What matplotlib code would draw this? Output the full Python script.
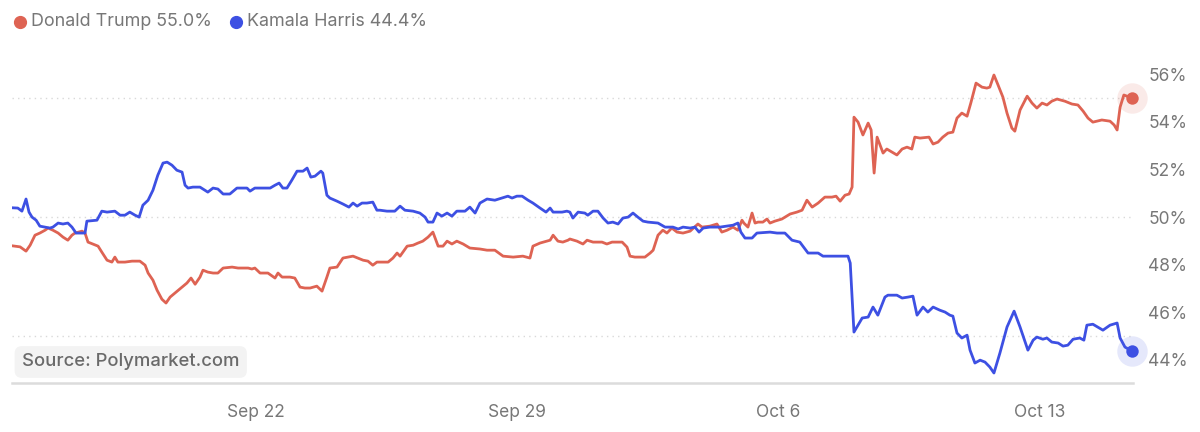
import matplotlib
matplotlib.use("Agg")
import matplotlib.pyplot as plt
import matplotlib.dates as mdates
from matplotlib.lines import Line2D
from datetime import datetime

plt.rcParams['font.family'] = ['Inter', 'DejaVu Sans']

# days after Sep 22, 2024 and probability (%)
trump_t = [-6.51, -6.32, -6.16, -6.05, -5.92, -5.79, -5.65, -5.57, -5.44, -5.30, -5.17, -5.04, -4.93, -4.85,
           -4.66, -4.58, -4.50, -4.37, -4.23, -4.13, -3.99, -3.86, -3.78, -3.70, -3.51, -3.32, -3.11, -2.97,
           -2.89, -2.76, -2.65, -2.52, -2.41, -2.30, -2.17, -1.98, -1.85, -1.74, -1.63, -1.50,
           -1.42, -1.29, -1.15, -1.02, -0.88, -0.64, -0.48, -0.21, -0.11, -0.03, 0.11, 0.32, 0.51, 0.59,
           0.70, 0.91, 1.04, 1.18, 1.31, 1.45, 1.63, 1.77, 1.90, 1.98, 2.17, 2.33, 2.60, 2.87, 3.00, 3.13, 3.24,
           3.32, 3.54, 3.67, 3.78, 3.86, 4.05, 4.21, 4.34, 4.47, 4.61, 4.74, 4.88, 5.01, 5.12, 5.25, 5.38,
           5.55, 5.73, 6.00, 6.19, 6.40, 6.62, 6.89, 7.15, 7.34, 7.42, 7.61, 7.88, 7.96, 8.09, 8.22, 8.36,
           8.41, 8.60, 8.76, 8.87, 9.03, 9.27, 9.40, 9.54, 9.81, 9.94, 10.02, 10.15, 10.42, 10.56, 10.64,
           10.77, 10.90, 11.01, 11.14, 11.28, 11.44, 11.63, 11.84, 11.95, 12.16, 12.35, 12.48, 12.62, 12.78,
           12.91, 13.02, 13.07, 13.18, 13.29, 13.37, 13.45,
           13.58, 13.69, 13.77, 13.90, 14.09, 14.31, 14.49, 14.63, 14.76, 14.90, 15.06, 15.24, 15.43, 15.54,
           15.65, 15.78, 15.89, 15.97, 16.02, 16.13, 16.26, 16.40, 16.48, 16.56, 16.64, 16.72, 16.80, 16.90,
           17.04, 17.17, 17.31, 17.44, 17.57, 17.65, 17.79, 18.03, 18.14, 18.27, 18.40, 18.54,
           18.67, 18.78, 18.91, 19.05, 19.15, 19.29, 19.45, 19.58, 19.66, 19.77, 19.88, 20.01, 20.12, 20.25,
           20.33, 20.47, 20.66, 20.79, 20.92, 21.06, 21.19, 21.32, 21.46, 21.67, 21.86, 22.02, 22.16, 22.29,
           22.42, 22.66, 22.88, 22.99, 23.07, 23.15, 23.25, 23.47]
trump_v = [48.79, 48.75, 48.57, 48.82, 49.24, 49.33, 49.45, 49.54, 49.45, 49.33, 49.16, 49.03, 49.24, 49.33,
           49.41, 49.33, 48.95, 48.87, 48.78, 48.53, 48.19, 48.11, 48.32, 48.11, 48.11, 48.15, 48.15, 47.98,
           47.65, 47.35, 46.93, 46.55, 46.39, 46.64, 46.81, 47.06, 47.23, 47.44, 47.18, 47.48,
           47.77, 47.69, 47.65, 47.65, 47.86, 47.90, 47.86, 47.86, 47.82, 47.86, 47.65, 47.65, 47.44, 47.65,
           47.48, 47.48, 47.44, 47.06, 47.02, 47.02, 47.10, 46.89, 47.48, 47.86, 47.90, 48.28, 48.36, 48.19,
           48.15, 47.98, 48.11,
           48.11, 48.11, 48.28, 48.49, 48.36, 48.78, 48.82, 48.91, 48.99, 49.16, 49.37, 48.78, 48.78, 48.99,
           48.87, 48.99, 48.87, 48.70, 48.66, 48.61, 48.61, 48.36, 48.32, 48.36, 48.28, 48.78, 48.91, 49.03,
           49.24, 48.99, 48.95, 49.03,
           49.08, 48.99, 48.87, 49.03, 48.95, 48.95, 48.87, 48.95, 48.95, 48.74, 48.36, 48.32, 48.32, 48.49,
           48.61, 49.24, 49.45, 49.33, 49.54, 49.37, 49.33, 49.41, 49.71, 49.58, 49.62, 49.71, 49.37, 49.45,
           49.58, 49.45, 49.87, 49.75, 49.58, 50.17, 49.75, 49.79,
           49.79, 49.92, 49.75, 49.83, 49.92, 50.13, 50.21, 50.29, 50.71, 50.42, 50.59, 50.84, 50.84, 50.88,
           50.67, 50.92, 50.97, 51.26, 54.20, 53.99, 53.45, 53.95, 53.66, 51.85, 53.36, 53.03, 52.69, 52.86,
           52.73, 52.61, 52.86, 52.94, 52.86, 53.36, 53.32, 53.36, 53.07, 53.15, 53.36, 53.53,
           53.57, 54.16, 54.37, 54.24, 54.79, 55.63, 55.46, 55.42, 55.46, 55.97, 55.55, 55.04, 54.37, 53.74,
           53.61, 54.50, 55.08, 54.79, 54.58, 54.79, 54.71, 54.87, 54.96, 54.87, 54.75, 54.71, 54.45, 54.16,
           53.99, 54.08, 54.03, 53.87, 53.66, 54.62, 55.13, 55.0]

harris_t = [-6.51, -6.38, -6.27, -6.16, -6.08, -6.00, -5.89, -5.79, -5.65, -5.52, -5.44, -5.30, -5.17, -5.04,
            -4.93, -4.82, -4.66, -4.58, -4.53, -4.26, -4.13, -3.99, -3.78, -3.64, -3.51, -3.38, -3.24, -3.13,
            -3.03, -2.89, -2.76, -2.63, -2.49, -2.38, -2.25, -2.12, -1.98, -1.90, -1.82, -1.69, -1.50,
            -1.42, -1.29, -1.15, -1.02, -0.88, -0.70, -0.51, -0.24, -0.16, -0.03, 0.38, 0.51, 0.62, 0.72,
            0.83, 0.96, 1.10, 1.26, 1.37, 1.47, 1.58, 1.74, 1.79, 1.90, 1.98, 2.17, 2.33, 2.49, 2.60, 2.71,
            2.84, 2.97, 3.13, 3.24,
            3.32, 3.51, 3.72, 3.86, 3.99, 4.21, 4.39, 4.53, 4.61, 4.74, 4.85, 4.98, 5.12, 5.25, 5.38, 5.60,
            5.73, 5.87, 6.00, 6.19, 6.40, 6.59, 6.75, 6.86, 6.99, 7.13, 7.29, 7.42, 7.61, 7.77, 7.88, 7.96,
            8.20, 8.33,
            8.41, 8.49, 8.63, 8.81, 8.89, 9.03, 9.16, 9.30, 9.43, 9.56, 9.70, 9.83, 9.97, 10.10, 10.23, 10.37,
            10.50, 10.77, 10.96, 11.17, 11.31, 11.44, 11.63, 11.76, 11.87, 11.98, 12.16, 12.43, 12.78, 12.91,
            12.99, 13.10, 13.29, 13.42,
            13.77, 13.96, 14.17, 14.36, 14.57, 14.79, 15.06, 15.19, 15.86, 15.92, 16.02, 16.24, 16.40, 16.53,
            16.66, 16.85, 16.93, 17.17, 17.31, 17.47, 17.60, 17.71, 17.87, 18.00, 18.14, 18.32, 18.46,
            18.59, 18.67, 18.78, 18.91, 19.05, 19.13, 19.26, 19.40, 19.53, 19.66, 19.77, 19.93, 20.12, 20.31,
            20.47, 20.68, 20.82, 20.92, 21.08, 21.19, 21.32, 21.49, 21.62, 21.75, 21.89, 22.07, 22.18, 22.26,
            22.42, 22.69, 22.88, 23.07, 23.15, 23.28, 23.47]
harris_v = [50.39, 50.38, 50.25, 50.76, 50.21, 50.0, 49.87, 49.62, 49.58, 49.54, 49.58, 49.75, 49.71, 49.75,
            49.58, 49.33, 49.33, 49.33, 49.83, 49.87, 50.25, 50.21, 50.25, 50.08, 50.08, 50.21, 50.08, 50.0,
            50.50, 50.71, 51.13, 51.76, 52.27, 52.31, 52.18, 51.97, 51.89, 51.34, 51.22, 51.26, 51.26,
            51.18, 51.05, 51.22, 51.18, 50.97, 50.97, 51.22, 51.22, 51.09, 51.22, 51.22, 51.34, 51.43, 51.22,
            51.22, 51.55, 51.93, 51.93, 52.06, 51.68, 51.72, 51.93, 51.85, 50.92, 50.80, 50.67, 50.55, 50.42,
            50.59, 50.46, 50.59, 50.59, 50.63, 50.29,
            50.29, 50.25, 50.25, 50.46, 50.29, 50.25, 50.17, 50.0, 49.79, 49.79, 50.17, 50.04, 50.17, 50.04,
            50.25, 50.25, 50.42, 50.17, 50.59, 50.76, 50.71, 50.80, 50.88, 50.80, 50.88, 50.88, 50.71, 50.59,
            50.38, 50.21, 50.38, 50.21, 50.21, 50.25,
            50.21, 49.96, 50.21, 50.17, 50.08, 50.25, 50.25, 49.96, 49.75, 49.79, 49.71, 49.96, 50.0, 50.17,
            50.0, 49.83, 49.79, 49.75, 49.58, 49.58, 49.50, 49.58, 49.54, 49.58, 49.37, 49.54, 49.58, 49.58,
            49.66, 49.75, 49.37, 49.12, 49.12, 49.33,
            49.37, 49.33, 49.33, 49.03, 48.95, 48.49, 48.49, 48.36, 48.36, 48.07, 45.17, 45.76, 45.80, 46.22,
            45.88, 46.64, 46.72, 46.72, 46.60, 46.64, 46.68, 45.88, 46.22, 46.01, 46.22, 46.09, 46.01,
            45.88, 45.84, 45.13, 44.92, 45.04, 44.41, 43.87, 43.99, 43.91, 43.70, 43.45, 44.29, 45.38, 46.05,
            45.38, 44.41, 44.83, 44.96, 44.87, 44.92, 44.75, 44.71, 44.58, 44.62, 44.87, 44.92, 44.83, 45.46,
            45.50, 45.25, 45.46, 45.55, 44.92, 44.54, 44.37]

names = ["Donald Trump 55.0%", "Kamala Harris 44.4%"]
tick_days = [0, 7, 14, 21]
tick_labels = ["Sep 22", "Sep 29", "Oct 6", "Oct 13"]
y_ticks = [44, 46, 48, 50, 52, 54, 56]
grid_vals = [45, 50, 55]

RED = '#de6353'
BLUE = '#3d50e3'
GRAY = '#777777'

base = mdates.date2num(datetime(2024, 9, 22))
tx = [base + t for t in trump_t]
hx = [base + t for t in harris_t]

fig = plt.figure(figsize=(12, 4.32), dpi=100)
ax = fig.add_axes([0.01, 0.1134, 0.934, 0.7477])

for g in grid_vals:
    ax.axhline(g, color='#d9d9d9', lw=1, ls=(0, (1, 3)), zorder=1)

ax.plot(tx, trump_v, color=RED, lw=2.0, zorder=3, solid_joinstyle='round')
ax.plot(hx, harris_v, color=BLUE, lw=2.0, zorder=3, solid_joinstyle='round')

for xs, vs, c in [(tx, trump_v, RED), (hx, harris_v, BLUE)]:
    ax.scatter([xs[-1]], [vs[-1]], s=480, color=c, alpha=0.13, lw=0, zorder=4, clip_on=False)
    ax.scatter([xs[-1]], [vs[-1]], s=80, color=c, lw=0, zorder=5, clip_on=False)

ax.set_xlim(base - 6.536, base + 23.49)
ax.set_ylim(43.03, 56.6)

for s in ['top', 'left', 'right']:
    ax.spines[s].set_visible(False)
ax.spines['bottom'].set_color('#dcdcdc')
ax.spines['bottom'].set_linewidth(1.8)

ax.set_xticks([base + d for d in tick_days])
ax.set_xticklabels(tick_labels)
ax.yaxis.tick_right()
ax.set_yticks(y_ticks)
ax.set_yticklabels([f"{v}%" for v in y_ticks])
ax.tick_params(axis='both', length=0, labelsize=12.5, labelcolor=GRAY)
ax.tick_params(axis='x', pad=15)
ax.tick_params(axis='y', pad=11)

# legend at top
for (px, txt, c) in [(20, names[0], RED), (236, names[1], BLUE)]:
    fig.add_artist(Line2D([px / 1200], [1 - 22 / 432], marker='o', markersize=8.5, color=c, lw=0,
                          transform=fig.transFigure))
    fig.text((px + 11) / 1200, 1 - 22 / 432, txt, fontsize=12.9, color=GRAY, va='center', ha='left')

fig.text(22 / 1200, 1 - 362 / 432, "Source: Polymarket.com", fontsize=13.3, color='#6a6a6a',
         fontweight='medium', va='center', ha='left',
         bbox=dict(boxstyle='round,pad=0.4,rounding_size=0.4', fc='#f3f3f3', ec='none'))

fig.savefig('out.png', dpi=100)
